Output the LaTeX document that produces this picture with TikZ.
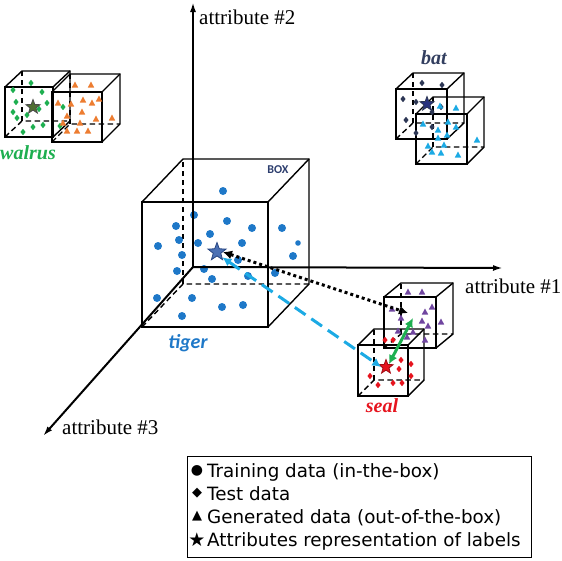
\documentclass[tikz,border=0pt]{standalone}
\usepackage{fontspec}
\setmainfont{Liberation Serif}
\newfontfamily\legfont{DejaVu Sans}
\newfontfamily\calfont{Carlito}
\usetikzlibrary{arrows.meta,shapes.geometric}
\definecolor{dotblue}{RGB}{30,120,200}
\definecolor{starblue}{RGB}{75,112,180}
\definecolor{starblueedge}{RGB}{40,70,130}
\definecolor{cyanc}{RGB}{28,170,228}
\definecolor{greenc}{RGB}{30,175,80}
\definecolor{olivestar}{RGB}{80,110,50}
\definecolor{orangec}{RGB}{237,125,49}
\definecolor{purplec}{RGB}{112,70,160}
\definecolor{redc}{RGB}{230,20,30}
\definecolor{navyc}{RGB}{45,55,85}
\definecolor{boxnavy}{RGB}{45,62,110}
\definecolor{batnavy}{RGB}{50,62,95}
\tikzset{
  boxline/.style={line width=1.4pt, black},
  boxdash/.style={boxline, dash pattern=on 5.5pt off 3.5pt},
  axisline/.style={line width=2pt, black, -{Latex[length=10pt,width=6pt]}},
  axislabel/.style={font=\fontsize{21}{23}\selectfont, inner sep=0pt},
  animal/.style={font=\fontsize{20}{22}\selectfont\bfseries\itshape, inner sep=0pt},
  legline/.style={font=\legfont\fontsize{18.3}{20}\selectfont, inner sep=0pt, anchor=base west},
  legsym/.style={inner sep=0pt, anchor=center},
  labelstar/.style={star, star points=5, star point ratio=2.4, inner sep=0pt, line width=0.8pt},
  tri/.pic={\fill (0,-3.5) -- (3.2,2.5) -- (-3.2,2.5) -- cycle;},
  dia/.pic={\fill (0,-3.2) -- (2.6,0) -- (0,3.2) -- (-2.6,0) -- cycle;},
}
\newcommand\wirebox[6]{%
  \draw[boxline] (#1,#2) rectangle ({#1+#3},{#2+#4});
  \draw[boxline] (#1,#2) -- ({#1+#5},{#2+#6}) -- ({#1+#3+#5},{#2+#6}) -- ({#1+#3+#5},{#2+#4+#6}) -- ({#1+#3},{#2+#4});
  \draw[boxline] ({#1+#3},#2) -- ({#1+#3+#5},{#2+#6});
  \draw[boxdash] (#1,{#2+#4}) -- ({#1+#5},{#2+#4+#6}) -- ({#1+#3+#5},{#2+#4+#6});
  \draw[boxdash] ({#1+#5},{#2+#4+#6}) -- ({#1+#5},{#2+#6});
}
\begin{document}
\begin{tikzpicture}[x=1pt,y=-1pt]
\useasboundingbox (0,0) rectangle (562,560);

% big box
\wirebox{142}{202}{126}{125}{41}{-43}
\node[font=\calfont\bfseries\fontsize{12}{13}\selectfont, text=boxnavy, inner sep=0pt] (boxlbl) at (278,170) {BOX};
\foreach \p in {(223,191),(194,215),(176,226),(227,221),(252,228),(282,228),(210,234),(158,246),(179,240),(198,243),(242,243),(182,255),(293,256),(238,260),(177,271),(204,269),(212,279),(248,276),(275,273),(157,298),(192,298),(222,307),(243,305),(182,316)}
  \fill[dotblue] \p circle (4);
\fill[dotblue] (298,243) circle (2.8);

% axes
\coordinate (origin) at (193,267);
\coordinate (a2tip) at (193,2);
\coordinate (a1tip) at (503,268);
\coordinate (a3tip) at (43,436);
\draw[axisline] (origin) -- (a2tip);
\draw[axisline] (origin) -- (a1tip);
\draw[axisline] (origin) -- (a3tip);
\node[axislabel, anchor=base west] (lab2) at (199,24) {attribute \#2};
\node[axislabel, anchor=base west] (lab1) at (465,293) {attribute \#1};
\node[axislabel, anchor=base west] (lab3) at (62,434) {attribute \#3};

% tiger star
\node[labelstar, minimum size=19pt, fill=starblue, draw=starblueedge] (tigerstar) at (217,252) {};
\node[animal, font=\calfont\fontsize{20}{22}\selectfont\bfseries\itshape, text=dotblue] (tiger) at (188,343) {tiger};

% walrus
\wirebox{5}{87}{48}{50}{17}{-16}
\wirebox{52}{92}{50}{50}{18}{-18}
\foreach \p in {(31,83),(13,90),(42,92),(16,102),(47,103),(13,112),(39,109),(27,115),(63,107),(17,118),(43,125),(33,127),(60,126),(23,132)}
  \pic[greenc] at \p {dia};
\foreach \p in {(75,85),(91,85),(58,103),(71,104),(83,100),(92,103),(99,99),(82,112),(67,116),(96,119),(112,118),(80,123),(63,123),(67,131),(77,131),(88,131)}
  \pic[orangec] at \p {tri};
\node[labelstar, minimum size=15pt, fill=olivestar, draw=black!70] (walrusstar) at (33,107) {};
\node[animal, text=greenc] (walrus) at (28,153) {walrus};

% bat
\wirebox{396}{89}{51}{50}{17}{-16}
\wirebox{416}{114}{51}{50}{17}{-17}
\foreach \p in {(422,83),(442,85),(403,99),(416,102),(441,107),(432,112),(406,120),(432,127),(416,133)}
  \pic[navyc] at \p {dia};
\foreach \p in {(456,108),(440,106),(423,124),(438,130),(448,122),(456,127),(447,135),(438,138),(477,140),(428,146),(444,145),(432,152),(441,153),(458,155)}
  \pic[cyanc] at \p {tri};
\node[labelstar, minimum size=15pt, fill=batnavy!80!blue, draw=navyc] (batstar) at (427,104) {};
\node[animal, text=batnavy] (bat) at (434,58) {bat};

% seal
\wirebox{384}{297}{52}{51}{17}{-14}
\wirebox{358}{345}{50}{51}{16}{-16}
\foreach \p in {(408,292),(422,292),(392,309),(425,312),(432,307),(401,318),(422,321),(441,322),(428,326),(398,331),(413,332),(407,337),(425,340)}
  \pic[purplec] at \p {tri};
\foreach \p in {(385,340),(393,340),(401,360),(411,364),(399,369),(370,376),(378,385),(393,383),(402,383),(411,376)}
  \pic[redc] at \p {dia};
\node[labelstar, minimum size=15pt, fill=redc, draw=redc!70!black] (sealstar) at (386,367) {};
\node[animal, text=redc] (seal) at (382,406) {seal};

% connectors
\coordinate (pblack) at (408,313);
\coordinate (pgreen) at (413,318);
\draw[line width=3pt, dash pattern=on 3pt off 3pt, {Latex[length=9pt,width=9pt]}-{Latex[length=9pt,width=9pt]}] (tigerstar.east) -- (pblack);
\draw[cyanc, line width=3pt, dash pattern=on 13pt off 7pt, {Latex[length=9pt,width=9pt]}-{Latex[length=9pt,width=9pt]}] (tigerstar.south east) -- (sealstar.west);
\draw[greenc, line width=3pt, {Latex[length=9pt,width=9pt]}-{Latex[length=9pt,width=9pt]}] (sealstar.north east) -- (pgreen);

% legend
\node[draw, line width=1pt, minimum width=344pt, minimum height=101pt, anchor=north west, inner sep=0pt] (legend) at (187,456) {};
\node[legsym, font=\legfont\fontsize{14}{15}\selectfont] (s1) at (197,470.5) {●};
\node[legsym, font=\legfont\fontsize{13}{15}\selectfont] (s2) at (197,493.5) {◆};
\node[legsym, font=\legfont\fontsize{13}{15}\selectfont] (s3) at (197,516.5) {▲};
\node[legsym, font=\legfont\fontsize{19}{20}\selectfont] (s4) at (197,539.5) {★};
\node[legline] (l1) at (207,477) {Training data (in-the-box)};
\node[legline] (l2) at (207,500) {Test data};
\node[legline] (l3) at (207,523) {Generated data (out-of-the-box)};
\node[legline] (l4) at (207,546) {Attributes representation of labels};
\end{tikzpicture}
\end{document}
